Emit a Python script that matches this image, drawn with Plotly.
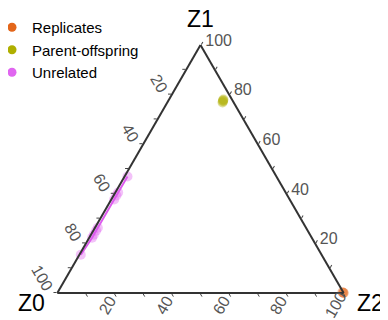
import plotly.graph_objects as go

# Data (Z0, Z1, Z2 in %)
rep_z0 = [0.0, 0.3, 0.1]
rep_z1 = [0.0, 0.3, 0.1]
rep_z2 = [100.0, 99.4, 99.8]

po_z0 = [3.5, 3.0, 3.9, 3.3]
po_z1 = [77.3, 78.0, 76.8, 77.6]
po_z2 = [19.2, 19.0, 19.3, 19.1]

un_z1 = [47.0, 40.5, 39.3, 37.7, 26.3, 25.1, 23.5, 22.3, 15.4]
un_z2 = [1.0, 1.0, 1.0, 1.0, 1.0, 1.0, 1.0, 1.0, 0.5]
un_z0 = [100 - a - c for a, c in zip(un_z1, un_z2)]

names = ["Replicates", "Parent-offspring", "Unrelated"]
colors = ["#E3661A", "#AFAF00", "#E066F0"]
axis_titles = ["Z0", "Z1", "Z2"]

# ticks every 10, labels every 20; each edge labelled with the vertex it runs toward
tick_steps = [0, 10, 20, 30, 40, 50, 60, 70, 80, 90]
label_values = [100 - t for t in tick_steps]
tick_text = [str(v) if v % 20 == 0 else "" for v in label_values]
bottom_labels = [20, 40, 60, 80, 100]   # Z2 along the bottom edge

W, H = 388, 320
M = dict(l=49, r=52, t=37, b=35)
PW, PH = W - M["l"] - M["r"], H - M["t"] - M["b"]
# triangle corners in pixels as laid out by plotly for these margins
BL, BR = (58.0, 291.0), (343.0, 291.0)
ANNO_SHIFT = (-8, -8)   # correction between requested and drawn annotation centres

def px(x, y):
    x += ANNO_SHIFT[0]
    y += ANNO_SHIFT[1]
    return (x - M["l"]) / PW, (H - M["b"] - y) / PH

fig = go.Figure()
for nm, col, z0, z1, z2 in [
    (names[0], colors[0], rep_z0, rep_z1, rep_z2),
    (names[1], colors[1], po_z0, po_z1, po_z2),
    (names[2], colors[2], un_z0, un_z1, un_z2),
]:
    fig.add_trace(go.Scatterternary(
        a=z1, b=z0, c=z2, name=nm, mode="markers", showlegend=False,
        cliponaxis=False,
        marker=dict(color=col, size=10, opacity=0.4),
    ))
# line through the unrelated pairs
fig.add_trace(go.Scatterternary(
    a=un_z1, b=un_z0, c=un_z2, mode="lines", showlegend=False,
    line=dict(color="#DD5CEE", width=2), hoverinfo="skip",
))
# legend entries
for nm, col in zip(names, colors):
    fig.add_trace(go.Scatterternary(
        a=[None], b=[None], c=[None], name=nm, mode="markers",
        marker=dict(color=col, size=9),
    ))

def ax(texts, angle, show=True):
    return dict(title=dict(text=""),
                showgrid=False, linecolor="#333", linewidth=2, ticks="outside",
                ticklen=3, tickcolor="#444", tickfont=dict(size=16, color="#555"),
                tickmode="array", tickvals=tick_steps, ticktext=texts,
                showticklabels=show, tickangle=angle, min=0)

annos = []
for txt, (x, y) in zip(axis_titles, [(31, 303), (200.5, 19), (370, 303)]):
    xp, yp = px(x, y)
    annos.append(dict(text=txt, x=xp, y=yp, xref="paper", yref="paper",
                      showarrow=False, xanchor="center", yanchor="middle",
                      font=dict(size=23, color="#000")))
# bottom-edge tick labels (rotated), placed just below their ticks
for v in bottom_labels:
    tx = BL[0] + (BR[0] - BL[0]) * v / 100.0
    xp, yp = px(tx - 8, BL[1] + 14)
    annos.append(dict(text=str(v), x=xp, y=yp, xref="paper", yref="paper",
                      showarrow=False, xanchor="center", yanchor="middle",
                      textangle=-60, font=dict(size=16, color="#555")))

lx = (-16 - M["l"]) / PW
ly = (H - M["b"] - 3) / PH
fig.update_layout(
    width=W, height=H,
    margin=dict(**M, autoexpand=False),
    paper_bgcolor="white",
    font=dict(family="Liberation Sans, Arial, sans-serif"),
    ternary=dict(sum=100, bgcolor="white",
                 aaxis=ax(tick_text, 60),
                 baxis=ax(tick_text, -60, show=False),
                 caxis=ax(tick_text, 0)),
    annotations=annos,
    legend=dict(x=lx, y=ly, xref="paper", yref="paper",
                xanchor="left", yanchor="top",
                font=dict(size=15, color="#000"),
                bgcolor="rgba(0,0,0,0)"),
)
fig.write_html("out.html")
